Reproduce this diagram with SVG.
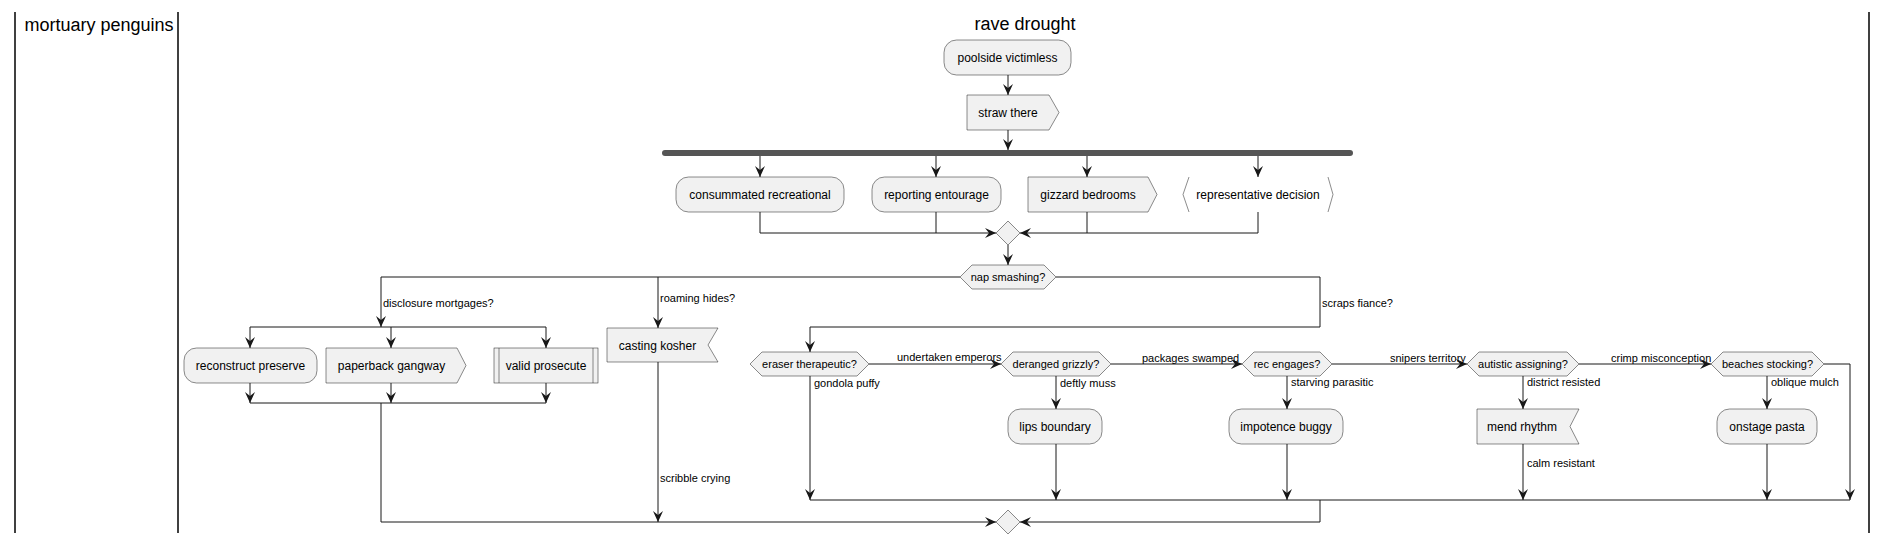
<svg xmlns="http://www.w3.org/2000/svg" width="1887" height="545" viewBox="0 0 1887 545">
<style>
.t{font-family:"Liberation Sans",Arial,sans-serif;font-size:12px;fill:#000;text-anchor:middle}
.l{font-family:"Liberation Sans",Arial,sans-serif;font-size:11px;fill:#000}
.h{font-family:"Liberation Sans",Arial,sans-serif;font-size:18px;fill:#000;text-anchor:middle}
.box{fill:#F1F1F1;stroke:#181818;stroke-width:0.5}
.br{fill:none;stroke:#181818;stroke-width:0.5}
.c{fill:none;stroke:#181818;stroke-width:1}
.a{marker-end:url(#arr)}
.lane{stroke:#000;stroke-width:1.5}
</style>
<defs>
<marker id="arr" markerUnits="userSpaceOnUse" viewBox="0 0 11 10" refX="11" refY="5" markerWidth="11" markerHeight="10" orient="auto">
<path d="M0,0 L11,5 L0,10 L4,5 Z" fill="#181818"/>
</marker>
</defs>
<rect width="1887" height="545" fill="#fff"/>
<g id="lanes">
<line class="lane" x1="15" y1="12" x2="15" y2="533"/>
<line class="lane" x1="178" y1="12" x2="178" y2="533"/>
<line class="lane" x1="1869" y1="12" x2="1869" y2="533"/>
<text class="h" x="99" y="31">mortuary penguins</text>
<text class="h" x="1025" y="30">rave drought</text>
</g>
<g id="connectors">
<path class="c a" d="M1008,75 V95"/>
<path class="c a" d="M1008,130 V150"/>
<path class="c a" d="M760,156 V177"/>
<path class="c a" d="M936,156 V177"/>
<path class="c a" d="M1087,156 V177"/>
<path class="c a" d="M1258,156 V177"/>
<path class="c a" d="M760,212 V233 H996"/>
<path class="c" d="M936,212 V233"/>
<path class="c" d="M1087,212 V233"/>
<path class="c a" d="M1258,212 V233 H1020"/>
<path class="c a" d="M1008,245 V265"/>
<path class="c a" d="M960,277 H381 V327"/>
<path class="c a" d="M658,277 V328"/>
<path class="c a" d="M1056,277 H1320 V327 H810 V352"/>
<path class="c" d="M250,327 H546"/>
<path class="c a" d="M250,327 V348"/>
<path class="c a" d="M391,327 V348"/>
<path class="c a" d="M546,327 V348"/>
<path class="c a" d="M250,383 V403"/>
<path class="c a" d="M391,383 V403"/>
<path class="c a" d="M546,383 V403"/>
<path class="c" d="M250,403 H546"/>
<path class="c a" d="M381,403 V522 H996"/>
<path class="c a" d="M658,362 V522"/>
<path class="c a" d="M869,364 H1001"/>
<path class="c a" d="M1111,364 H1242"/>
<path class="c a" d="M1332,364 H1467"/>
<path class="c a" d="M1579,364 H1711"/>
<path class="c a" d="M810,376 V500"/>
<path class="c a" d="M1056,376 V409"/>
<path class="c a" d="M1056,444 V500"/>
<path class="c a" d="M1287,376 V409"/>
<path class="c a" d="M1287,444 V500"/>
<path class="c a" d="M1523,376 V409"/>
<path class="c a" d="M1523,444 V500"/>
<path class="c a" d="M1767,376 V409"/>
<path class="c a" d="M1767,444 V500"/>
<path class="c a" d="M1824,364 H1850 V500"/>
<path class="c" d="M810,500 H1850"/>
<path class="c a" d="M1320,500 V522 H1020"/>
<text class="l" x="383" y="307">disclosure mortgages?</text>
<text class="l" x="660" y="302">roaming hides?</text>
<text class="l" x="1322" y="307">scraps fiance?</text>
<text class="l" x="660" y="482">scribble crying</text>
<text class="l" x="897" y="361">undertaken emperors</text>
<text class="l" x="1142" y="362">packages swamped</text>
<text class="l" x="1390" y="362">snipers territory</text>
<text class="l" x="1611" y="362">crimp misconception</text>
<text class="l" x="814" y="387">gondola puffy</text>
<text class="l" x="1060" y="387">deftly muss</text>
<text class="l" x="1291" y="386">starving parasitic</text>
<text class="l" x="1527" y="386">district resisted</text>
<text class="l" x="1771" y="386">oblique mulch</text>
<text class="l" x="1527" y="467">calm resistant</text>
</g>
<g id="poolside">
<rect class="box" x="944" y="40" width="127" height="35" rx="12.5"/>
<text class="t" x="1007.5" y="62">poolside victimless</text>
</g>
<g id="straw">
<polygon class="box" points="967,95 1049,95 1059,112.5 1049,130 967,130"/>
<text class="t" x="1008" y="117">straw there</text>
</g>
<g id="forkbar">
<rect x="662" y="150" width="691" height="6" rx="3" fill="#555555"/>
</g>
<g id="consummated">
<rect class="box" x="676" y="177" width="168" height="35" rx="12.5"/>
<text class="t" x="760" y="198.5">consummated recreational</text>
</g>
<g id="reporting">
<rect class="box" x="872" y="177" width="129" height="35" rx="12.5"/>
<text class="t" x="936.5" y="198.5">reporting entourage</text>
</g>
<g id="gizzard">
<polygon class="box" points="1028,177 1148,177 1157,194.5 1148,212 1028,212"/>
<text class="t" x="1088" y="198.5">gizzard bedrooms</text>
</g>
<g id="representative">
<polyline class="br" points="1189,177 1183,194.5 1189,212"/>
<polyline class="br" points="1328,177 1333,194.5 1328,212"/>
<text class="t" x="1258" y="198.5">representative decision</text>
</g>
<g id="merge1">
<polygon class="box" points="1008,221 1020,233 1008,245 996,233"/>
</g>
<g id="nap">
<polygon class="box" points="960,277 972,265 1044,265 1056,277 1044,289 972,289"/>
<text class="t" style="font-size:11px" x="1008" y="281">nap smashing?</text>
</g>
<g id="reconstruct">
<rect class="box" x="184" y="348" width="133" height="35" rx="12.5"/>
<text class="t" x="250.5" y="370">reconstruct preserve</text>
</g>
<g id="paperback">
<polygon class="box" points="326,348 457,348 466,365.5 457,383 326,383"/>
<text class="t" x="391.5" y="370">paperback gangway</text>
</g>
<g id="valid">
<rect class="box" x="494" y="348" width="104" height="35"/>
<line class="br" x1="499" y1="348" x2="499" y2="383"/>
<line class="br" x1="593" y1="348" x2="593" y2="383"/>
<text class="t" x="546" y="370">valid prosecute</text>
</g>
<g id="casting">
<polygon class="box" points="607,328 718,328 708,345 718,362 607,362"/>
<text class="t" x="657.5" y="349.5">casting kosher</text>
</g>
<g id="eraser">
<polygon class="box" points="750,364 762,352 857,352 869,364 857,376 762,376"/>
<text class="t" style="font-size:11px" x="809.5" y="368">eraser therapeutic?</text>
</g>
<g id="deranged">
<polygon class="box" points="1001,364 1013,352 1099,352 1111,364 1099,376 1013,376"/>
<text class="t" style="font-size:11px" x="1056" y="368">deranged grizzly?</text>
</g>
<g id="rec">
<polygon class="box" points="1242,364 1254,352 1320,352 1332,364 1320,376 1254,376"/>
<text class="t" style="font-size:11px" x="1287" y="368">rec engages?</text>
</g>
<g id="autistic">
<polygon class="box" points="1467,364 1479,352 1567,352 1579,364 1567,376 1479,376"/>
<text class="t" style="font-size:11px" x="1523" y="368">autistic assigning?</text>
</g>
<g id="beaches">
<polygon class="box" points="1711,364 1723,352 1812,352 1824,364 1812,376 1723,376"/>
<text class="t" style="font-size:11px" x="1767.5" y="368">beaches stocking?</text>
</g>
<g id="lips">
<rect class="box" x="1008" y="409" width="94" height="35" rx="12.5"/>
<text class="t" x="1055" y="431">lips boundary</text>
</g>
<g id="impotence">
<rect class="box" x="1229" y="409" width="114" height="35" rx="12.5"/>
<text class="t" x="1286" y="431">impotence buggy</text>
</g>
<g id="mend">
<polygon class="box" points="1477,409 1579,409 1570,426.5 1579,444 1477,444"/>
<text class="t" x="1522" y="431">mend rhythm</text>
</g>
<g id="onstage">
<rect class="box" x="1717" y="409" width="100" height="35" rx="12.5"/>
<text class="t" x="1767" y="431">onstage pasta</text>
</g>
<g id="merge2">
<polygon class="box" points="1008,510 1020,522 1008,534 996,522"/>
</g>
</svg>
